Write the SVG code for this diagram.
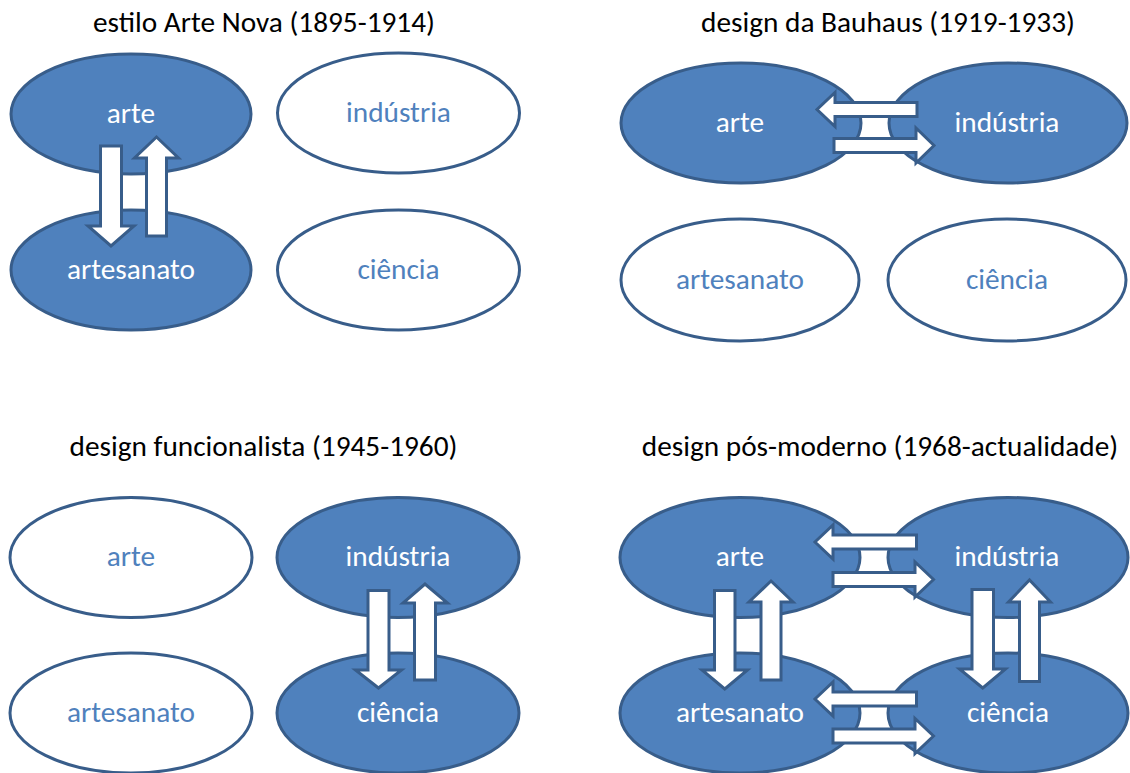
<svg xmlns="http://www.w3.org/2000/svg" width="1130" height="773" viewBox="0 0 1130 773">
<style>
.bg{fill:#ffffff}
.on{fill:#4F81BD;stroke:#385D8A;stroke-width:3}
.off{fill:#ffffff;stroke:#385D8A;stroke-width:3}
.t{font-family:Carlito,Calibri,Lato,"Liberation Sans",sans-serif;font-size:29.3px;text-anchor:middle}
.tw{fill:#ffffff}
.tb{fill:#4F81BD}
.title{font-family:Carlito,Calibri,Lato,"Liberation Sans",sans-serif;font-size:29.3px;text-anchor:middle;fill:#000000}
.arr{fill:#ffffff;stroke:#385D8A;stroke-width:3;stroke-linejoin:miter}
</style>
<rect class="bg" x="0" y="0" width="1130" height="773"/>
<g id="titles">
<text class="title" x="264" y="32">estilo Arte Nova (1895-1914)</text>
<text class="title" x="888" y="32">design da Bauhaus (1919-1933)</text>
<text class="title" x="263.5" y="456">design funcionalista (1945-1960)</text>
<text class="title" x="880" y="456">design pós-moderno (1968-actualidade)</text>
</g>
<g id="p1-arte"><ellipse class="on" cx="131" cy="114" rx="120" ry="60"/><text class="t tw" x="131" y="123">arte</text></g>
<g id="p1-industria"><ellipse class="off" cx="398.5" cy="113" rx="121" ry="60"/><text class="t tb" x="398.5" y="122">indústria</text></g>
<g id="p1-artesanato"><ellipse class="on" cx="131" cy="270" rx="120" ry="60"/><text class="t tw" x="131" y="279">artesanato</text></g>
<g id="p1-ciencia"><ellipse class="off" cx="398.5" cy="270" rx="121" ry="60"/><text class="t tb" x="398.5" y="279">ciência</text></g>
<g id="p2-arte"><ellipse class="on" cx="741" cy="123" rx="120" ry="60"/><text class="t tw" x="740" y="132">arte</text></g>
<g id="p2-industria"><ellipse class="on" cx="1008" cy="123" rx="119" ry="60"/><text class="t tw" x="1007" y="132">indústria</text></g>
<g id="p2-artesanato"><ellipse class="off" cx="740" cy="280" rx="119" ry="61"/><text class="t tb" x="740" y="289">artesanato</text></g>
<g id="p2-ciencia"><ellipse class="off" cx="1007" cy="280" rx="119" ry="61"/><text class="t tb" x="1007" y="289">ciência</text></g>
<g id="p3-arte"><ellipse class="off" cx="131" cy="557.5" rx="121" ry="60"/><text class="t tb" x="131" y="566">arte</text></g>
<g id="p3-industria"><ellipse class="on" cx="398" cy="557.5" rx="121" ry="60"/><text class="t tw" x="398" y="566">indústria</text></g>
<g id="p3-artesanato"><ellipse class="off" cx="131" cy="713" rx="121" ry="60"/><text class="t tb" x="131" y="722">artesanato</text></g>
<g id="p3-ciencia"><ellipse class="on" cx="398" cy="713" rx="121" ry="60"/><text class="t tw" x="398" y="722">ciência</text></g>
<g id="p4-arte"><ellipse class="on" cx="740" cy="557.5" rx="120" ry="60"/><text class="t tw" x="740" y="566">arte</text></g>
<g id="p4-industria"><ellipse class="on" cx="1008" cy="557.5" rx="120" ry="60"/><text class="t tw" x="1007" y="566">indústria</text></g>
<g id="p4-artesanato"><ellipse class="on" cx="740" cy="713" rx="120" ry="60"/><text class="t tw" x="740" y="722">artesanato</text></g>
<g id="p4-ciencia"><ellipse class="on" cx="1008" cy="713" rx="120" ry="60"/><text class="t tw" x="1008" y="722">ciência</text></g>
<g id="connectors">
<path class="arr" d="M100.5,146 H121.5 V226 H134 L111,246 L88,226 H100.5 Z"/>
<path class="arr" d="M146.5,236 V158 H134.5 L156.5,137 L178.5,158 H166.5 V236 Z"/>
<path class="arr" d="M917,102.5 H835 V92.5 L817,109.5 L835,126.5 V116.5 H917 Z"/>
<path class="arr" d="M834,138.5 H916 V128 L934,145.5 L916,163 V152.5 H834 Z"/>
<path class="arr" d="M368,590.5 H389 V670 H401.5 L378.5,688 L355.5,670 H368 Z"/>
<path class="arr" d="M414.5,680 V603 H403 L425,584 L447.5,603 H435.5 V680 Z"/>
<path class="arr" d="M916.5,535 H833 V525 L815,542 L833,559 V549 H916.5 Z"/>
<path class="arr" d="M833,572.5 H915 V562 L933.5,579.5 L915,597 V586.5 H833 Z"/>
<path class="arr" d="M916.5,692 H833 V682 L815,699 L833,716 V706 H916.5 Z"/>
<path class="arr" d="M833,729 H915 V718.5 L933.5,736 L915,753.5 V743 H833 Z"/>
<path class="arr" d="M714.5,590.5 H735 V670 H747.5 L724.75,689 L702,670 H714.5 Z"/>
<path class="arr" d="M761,680 V602 H749 L771,581 L793,602 H781 V680 Z"/>
<path class="arr" d="M972,589.5 H993.5 V669 H1005.5 L982.75,688 L959.5,669 H972 Z"/>
<path class="arr" d="M1019.5,681.5 V602 H1008.5 L1029.5,580 L1050.5,602 H1039.5 V681.5 Z"/>
</g>
</svg>
